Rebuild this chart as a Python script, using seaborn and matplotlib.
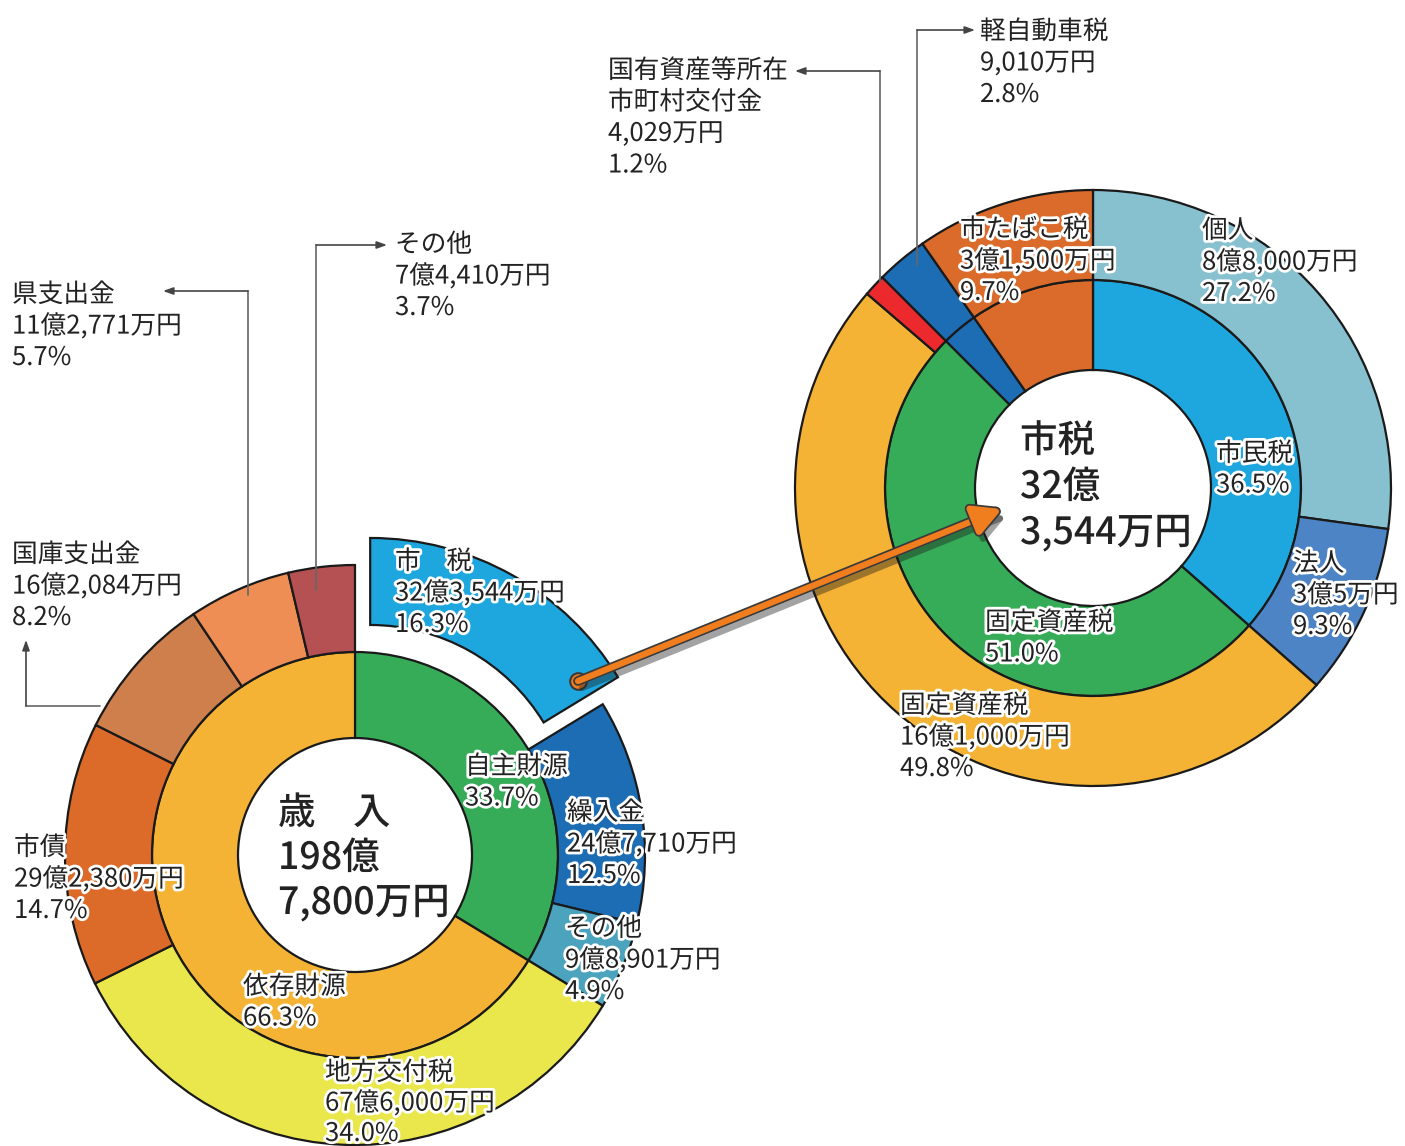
import matplotlib
matplotlib.use("Agg")
import matplotlib.pyplot as plt
import matplotlib.patheffects as pe
import seaborn as sns

# ---- 歳入 (left donut) ----
left_inner_labels = ["自主財源", "依存財源"]
left_inner_pct = [33.7, 66.3]
left_inner_colors = ["#36AC58", "#F4B335"]

left_outer_labels = ["市　税", "繰入金", "その他", "地方交付税", "市債",
                     "国庫支出金", "県支出金", "その他"]
left_outer_amounts = ["32億3,544万円", "24億7,710万円", "9億8,901万円",
                      "67億6,000万円", "29億2,380万円", "16億2,084万円",
                      "11億2,771万円", "7億4,410万円"]
left_outer_pct = [16.3, 12.5, 4.9, 34.0, 14.7, 8.2, 5.7, 3.7]
left_outer_colors = ["#1EA7DF", "#1D6DB5", "#4BA3BE", "#E9E74C", "#DC6B2A",
                     "#CF7F4C", "#EE8E54", "#B55053"]
left_explode = [31, 0, 0, 0, 0, 0, 0, 0]
left_title = ["歳　入", "198億", "7,800万円"]

# ---- 市税 (right donut) ----
right_inner_labels = ["市民税", "固定資産税", "軽自動車税", "市たばこ税"]
right_inner_pct = [36.5, 51.0, 2.8, 9.7]
right_inner_colors = ["#1EA7DF", "#36AC58", "#1D6DB5", "#DA6B2A"]

right_outer_labels = ["個人", "法人", "固定資産税", "国有資産等所在\n市町村交付金",
                      "軽自動車税", "市たばこ税"]
right_outer_amounts = ["8億8,000万円", "3億5万円", "16億1,000万円", "4,029万円",
                       "9,010万円", "3億1,500万円"]
right_outer_pct = [27.2, 9.3, 49.8, 1.2, 2.8, 9.7]
right_outer_colors = ["#87C1CF", "#4C84C6", "#F4B335", "#EC2A2E", "#1D6DB5", "#DA6B2A"]
right_title = ["市税", "32億", "3,544万円"]

sns.set_theme(style="white")
plt.rcParams["font.family"] = ["Noto Sans CJK JP", "DejaVu Sans"]

W, H = 1405, 1146
fig = plt.figure(figsize=(W / 100, H / 100), dpi=100)
ax = fig.add_axes([0, 0, 1, 1])


def P(x, y):
    # pixel position (from top-left) -> data coords
    return (x, H - y)


edge = dict(edgecolor="#1a1a1a", linewidth=1.6)

# left donut
lc = P(355, 855)
ax.pie(left_inner_pct, colors=left_inner_colors, radius=203, center=lc,
       startangle=90, counterclock=False, wedgeprops=dict(width=86, **edge))
ax.pie(left_outer_pct, colors=left_outer_colors, radius=290, center=lc,
       explode=left_explode, startangle=90, counterclock=False,
       wedgeprops=dict(width=87, **edge))

# right donut
rc = P(1093, 488)
ax.pie(right_inner_pct, colors=right_inner_colors, radius=208, center=rc,
       startangle=90, counterclock=False, wedgeprops=dict(width=90, **edge))
ax.pie(right_outer_pct, colors=right_outer_colors, radius=298, center=rc,
       startangle=90, counterclock=False, wedgeprops=dict(width=90, **edge))

halo = [pe.withStroke(linewidth=4, foreground="white")]


def label(x, y, lines, size=18.5, step=31.5, weight="normal"):
    for i, s in enumerate(lines):
        ax.text(*P(x, y + i * step), s, fontsize=size, color="#222222",
                ha="left", va="center", fontweight=weight, path_effects=halo)


# left labels
label(395, 562, [left_outer_labels[0], left_outer_amounts[0], f"{left_outer_pct[0]}%"])
label(567, 813, [left_outer_labels[1], left_outer_amounts[1], f"{left_outer_pct[1]}%"])
label(565, 929, [left_outer_labels[2], left_outer_amounts[2], f"{left_outer_pct[2]}%"])
label(325, 1073, [left_outer_labels[3], left_outer_amounts[3], f"{left_outer_pct[3]}%"], step=30.5)
label(14, 848, [left_outer_labels[4], left_outer_amounts[4], f"{left_outer_pct[4]}%"])
label(12, 555, [left_outer_labels[5], left_outer_amounts[5], f"{left_outer_pct[5]}%"])
label(12, 295, [left_outer_labels[6], left_outer_amounts[6], f"{left_outer_pct[6]}%"])
label(395, 245, [left_outer_labels[7], left_outer_amounts[7], f"{left_outer_pct[7]}%"])
label(465, 767, [left_inner_labels[0], f"{left_inner_pct[0]}%"])
label(243, 987, [left_inner_labels[1], f"{left_inner_pct[1]}%"])
label(278, 813, left_title, size=27, step=45, weight="medium")

# right labels
label(1202, 231, [right_outer_labels[0], right_outer_amounts[0], f"{right_outer_pct[0]}%"])
label(1293, 564, [right_outer_labels[1], right_outer_amounts[1], f"{right_outer_pct[1]}%"])
label(900, 706, [right_outer_labels[2], right_outer_amounts[2], f"{right_outer_pct[2]}%"])
label(608, 71, right_outer_labels[3].split("\n") + [right_outer_amounts[3], f"{right_outer_pct[3]}%"])
label(980, 32, [right_outer_labels[4], right_outer_amounts[4], f"{right_outer_pct[4]}%"])
label(960, 230, [right_outer_labels[5], right_outer_amounts[5], f"{right_outer_pct[5]}%"])
label(1216, 454, [right_inner_labels[0], f"{right_inner_pct[0]}%"])
label(985, 623, [right_inner_labels[1], f"{right_inner_pct[1]}%"])
label(1020, 441, right_title, size=27, step=46, weight="medium")

# leader lines
leader = dict(color="#666666", lw=1.2)
arrow = dict(arrowstyle="-|>,head_length=0.5,head_width=0.18", color="#444444",
             lw=1.2, shrinkA=0, shrinkB=0)
for pts in [[(248, 595), (248, 291), (163, 291)],
            [(316, 590), (316, 245), (387, 245)],
            [(100, 706), (26, 706), (26, 640)],
            [(880, 282), (880, 71), (795, 71)],
            [(917, 265), (917, 30), (975, 30)]]:
    xs, ys = zip(*[P(*p) for p in pts[:-1]])
    ax.plot(xs, ys, **leader)
    ax.annotate("", xy=P(*pts[-1]), xytext=P(*pts[-2]), arrowprops=arrow)

# orange connector arrow
ax.annotate("", xy=P(1002, 509), xytext=P(578, 681),
            arrowprops=dict(arrowstyle="-|>,head_length=1.4,head_width=0.75",
                            color="#F07D1E", lw=4.5, shrinkA=0, shrinkB=0,
                            path_effects=[pe.SimpleLineShadow(offset=(3, -5), alpha=0.4),
                                          pe.Stroke(linewidth=7, foreground="#3a3a3a"),
                                          pe.Normal()]))
ax.plot(*P(578, 681), "o", ms=12, mfc="#F07D1E", mec="#3a3a3a", mew=1.5)

ax.set_xlim(0, W)
ax.set_ylim(0, H)
ax.set_aspect("equal")
ax.axis("off")
fig.savefig("out.png", dpi=100)
